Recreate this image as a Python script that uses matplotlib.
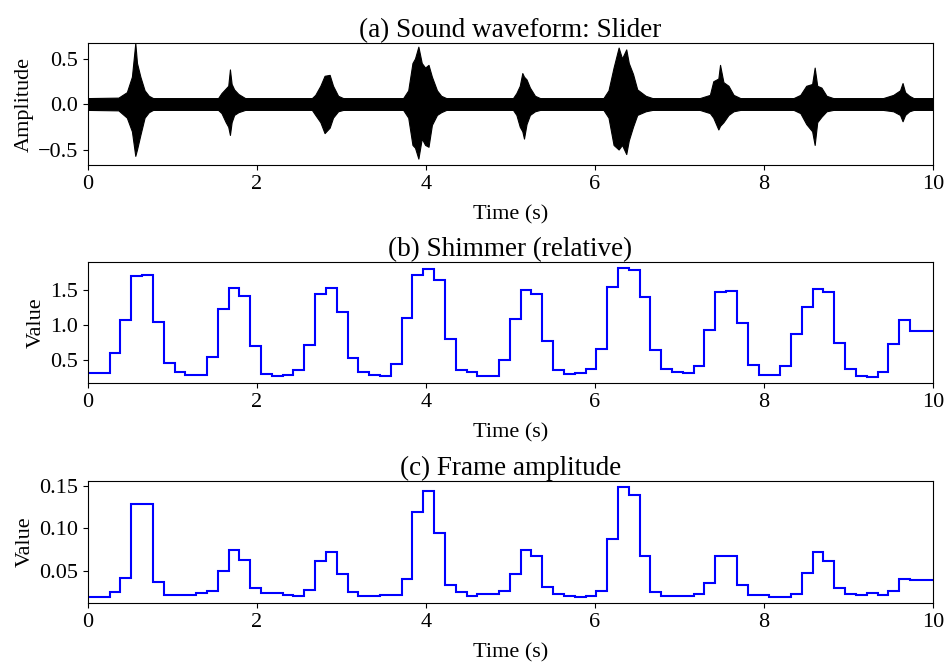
#!/usr/bin/env python3
"""
Sound waveform and frame features for the 'Slider' recording.
Three stacked panels: waveform envelope, relative shimmer and frame amplitude.
"""
import numpy as np
import matplotlib
matplotlib.use("Agg")
import matplotlib.pyplot as plt

plt.rcParams['font.family'] = ['Liberation Serif', 'DejaVu Serif']
plt.rcParams['mathtext.fontset'] = 'stix'

# Constants
DURATION = 10.0   # seconds
HOP = 0.128       # seconds per analysis frame
LINE_BLUE = '#0000ff'

# Waveform envelope knots (time in s, upper / lower amplitude)
env_t = [0.00, 0.36, 0.46, 0.52, 0.56, 0.58, 0.62, 0.67, 0.72, 0.77,
         1.54, 1.58, 1.63, 1.66, 1.68, 1.70, 1.73, 1.78, 1.86,
         2.65, 2.69, 2.75, 2.80, 2.86, 2.90, 2.96, 3.02,
         3.73, 3.79, 3.84, 3.87, 3.91, 3.95, 3.99, 4.03, 4.07, 4.13, 4.18, 4.24,
         5.03, 5.07, 5.11, 5.14, 5.16, 5.19, 5.23, 5.29, 5.35,
         6.10, 6.16, 6.22, 6.28, 6.32, 6.37, 6.40, 6.45, 6.50, 6.60, 6.68,
         7.24, 7.36, 7.40, 7.46, 7.48, 7.52, 7.58, 7.64, 7.72,
         8.35, 8.43, 8.50, 8.57, 8.60, 8.63, 8.68, 8.74, 8.82,
         9.41, 9.53, 9.61, 9.64, 9.67, 9.72, 9.77, 10.00]
env_hi = [0.065, 0.07, 0.13, 0.30, 0.67, 0.45, 0.30, 0.15, 0.09, 0.065,
          0.065, 0.12, 0.17, 0.20, 0.38, 0.22, 0.16, 0.11, 0.065,
          0.065, 0.10, 0.20, 0.31, 0.32, 0.20, 0.09, 0.065,
          0.065, 0.15, 0.45, 0.50, 0.63, 0.45, 0.40, 0.43, 0.30, 0.15, 0.09, 0.065,
          0.065, 0.12, 0.20, 0.34, 0.30, 0.27, 0.18, 0.09, 0.065,
          0.065, 0.15, 0.40, 0.62, 0.50, 0.60, 0.45, 0.33, 0.16, 0.09, 0.065,
          0.065, 0.10, 0.25, 0.28, 0.43, 0.24, 0.20, 0.10, 0.065,
          0.065, 0.10, 0.20, 0.22, 0.40, 0.20, 0.18, 0.09, 0.065,
          0.065, 0.10, 0.15, 0.23, 0.13, 0.09, 0.065, 0.065]
env_lo = [-0.065, -0.07, -0.15, -0.30, -0.57, -0.50, -0.34, -0.15, -0.09, -0.065,
          -0.065, -0.10, -0.20, -0.25, -0.34, -0.20, -0.12, -0.09, -0.065,
          -0.065, -0.12, -0.20, -0.32, -0.26, -0.15, -0.08, -0.065,
          -0.065, -0.15, -0.45, -0.48, -0.60, -0.38, -0.45, -0.47, -0.23, -0.12, -0.09, -0.065,
          -0.065, -0.12, -0.25, -0.30, -0.38, -0.22, -0.12, -0.08, -0.065,
          -0.065, -0.15, -0.45, -0.50, -0.45, -0.55, -0.40, -0.25, -0.12, -0.08, -0.065,
          -0.065, -0.10, -0.15, -0.28, -0.24, -0.20, -0.12, -0.08, -0.065,
          -0.065, -0.10, -0.22, -0.30, -0.45, -0.20, -0.14, -0.08, -0.065,
          -0.065, -0.08, -0.12, -0.19, -0.12, -0.08, -0.065, -0.065]

# Relative shimmer per frame (78 frames)
shimmer = [0.32, 0.32, 0.60, 1.08, 1.70, 1.71, 1.05, 0.46, 0.33, 0.30,
           0.29, 0.55, 1.23, 1.53, 1.42, 0.71, 0.31, 0.28, 0.29, 0.36,
           0.72, 1.44, 1.53, 1.19, 0.53, 0.33, 0.30, 0.28, 0.45, 1.11,
           1.71, 1.80, 1.64, 0.81, 0.37, 0.33, 0.28, 0.28, 0.51, 1.09,
           1.50, 1.44, 0.78, 0.37, 0.31, 0.32, 0.38, 0.66, 1.55, 1.82,
           1.79, 1.40, 0.65, 0.38, 0.33, 0.32, 0.42, 0.93, 1.48, 1.49,
           1.03, 0.44, 0.30, 0.30, 0.42, 0.88, 1.26, 1.51, 1.48, 0.75,
           0.38, 0.28, 0.26, 0.34, 0.73, 1.08, 0.92, 0.92]

# Frame amplitude per frame (78 frames)
frame_amp = [0.020, 0.020, 0.025, 0.042, 0.129, 0.128, 0.037, 0.022, 0.022, 0.022,
             0.024, 0.026, 0.050, 0.074, 0.063, 0.030, 0.024, 0.024, 0.022, 0.021,
             0.028, 0.062, 0.072, 0.047, 0.025, 0.021, 0.021, 0.022, 0.022, 0.041,
             0.119, 0.144, 0.095, 0.034, 0.025, 0.021, 0.023, 0.023, 0.027, 0.046,
             0.074, 0.067, 0.031, 0.023, 0.021, 0.020, 0.021, 0.027, 0.088, 0.149,
             0.139, 0.067, 0.025, 0.021, 0.021, 0.021, 0.023, 0.036, 0.067, 0.068,
             0.034, 0.022, 0.022, 0.020, 0.019, 0.023, 0.048, 0.072, 0.062, 0.030,
             0.023, 0.022, 0.024, 0.022, 0.026, 0.040, 0.039, 0.039]

titles = ['(a) Sound waveform: Slider', '(b) Shimmer (relative)', '(c) Frame amplitude']
ylabels = ['Amplitude', 'Value', 'Value']

# Axes boxes in figure fraction [left, bottom, width, height]
LEFT, RIGHT = 0.0929, 0.9852
BOXES = [
    [LEFT, 0.7508, RIGHT - LEFT, 0.1842],
    [LEFT, 0.4215, RIGHT - LEFT, 0.1827],
    [LEFT, 0.0891, RIGHT - LEFT, 0.1843],
]

TICK_FS = 16
LABEL_FS = 16
TITLE_FS = 19.5


def style_axis(ax, title, ylabel):
    """Shared axis styling."""
    ax.set_xlim(0, DURATION)
    ax.set_xticks(range(0, 11, 2))
    ax.set_xlabel('Time (s)', fontsize=LABEL_FS, labelpad=8)
    ax.set_ylabel(ylabel, fontsize=LABEL_FS, labelpad=3)
    ax.set_title(title, fontsize=TITLE_FS, pad=3)
    ax.tick_params(labelsize=TICK_FS)


def main():
    fig = plt.figure(figsize=(9.47, 6.62), dpi=100)
    axes = [fig.add_axes(b) for b in BOXES]

    # (a) waveform envelope
    ax = axes[0]
    ax.fill_between(env_t, env_lo, env_hi, color='black', linewidth=0.8)
    ax.set_ylim(-0.67, 0.67)
    ax.set_yticks([-0.5, 0.0, 0.5])
    style_axis(ax, titles[0], ylabels[0])

    edges = np.append(np.arange(len(shimmer)) * HOP, DURATION)

    # (b) shimmer
    ax = axes[1]
    ax.stairs(shimmer, edges, color=LINE_BLUE, linewidth=1.5, baseline=None)
    ax.set_ylim(0.18, 1.90)
    ax.set_yticks([0.5, 1.0, 1.5])
    style_axis(ax, titles[1], ylabels[1])

    # (c) frame amplitude
    ax = axes[2]
    ax.stairs(frame_amp, edges, color=LINE_BLUE, linewidth=1.5, baseline=None)
    ax.set_ylim(0.0124, 0.1555)
    ax.set_yticks([0.05, 0.10, 0.15])
    style_axis(ax, titles[2], ylabels[2])

    fig.savefig('out.png', dpi=100, facecolor='white')
    plt.close(fig)


if __name__ == "__main__":
    main()
